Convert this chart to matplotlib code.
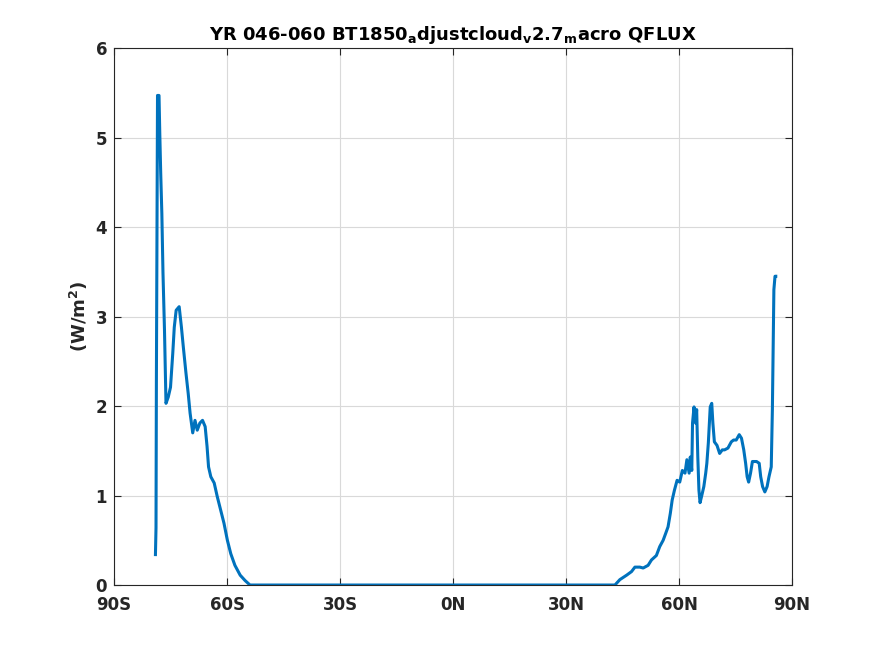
import numpy as np
import matplotlib
matplotlib.use("Agg")
import matplotlib.pyplot as plt

# latitude (deg) and QFLUX (W/m2)
lat_south = [-79.0, -78.85, -78.75, -78.6, -78.45, -78.3, -78.05, -77.85, -77.6,
             -77.3, -77.0, -76.6, -76.2, -75.6, -75.0, -74.4, -74.0, -73.5, -72.7,
             -72.1, -71.6, -70.9, -70.3, -69.8, -69.1, -68.5, -67.9, -67.2, -66.5,
             -65.8, -65.3, -64.9, -64.3, -63.4, -62.6, -61.7, -60.8, -59.9, -59.0,
             -57.9, -56.5, -55.2, -53.9]
q_south = [0.34, 0.64, 2.26, 3.85, 5.47, 5.47, 5.47, 5.05, 4.6,
           4.15, 3.49, 2.85, 2.03, 2.1, 2.21, 2.59, 2.88, 3.07, 3.11,
           2.88, 2.66, 2.37, 2.14, 1.92, 1.70, 1.84, 1.73, 1.81, 1.84,
           1.77, 1.55, 1.32, 1.21, 1.14, 0.99, 0.84, 0.69, 0.50, 0.35,
           0.22, 0.11, 0.05, 0.0]

lat_north = [43.0, 44.3, 46.1, 47.4, 48.3, 49.6, 50.5, 51.8, 52.7, 54.0, 54.9,
             55.8, 56.5, 57.1, 57.7, 58.2, 58.8, 59.5, 60.2, 60.9, 61.6, 62.1,
             62.7, 63.0, 63.4, 63.6, 64.0, 64.4, 64.7, 65.0, 65.3, 65.6, 66.0,
             66.6, 67.1, 67.4, 67.8, 68.3, 68.7, 69.0, 69.4, 70.1, 70.8, 71.5,
             72.1, 73.0, 73.9, 74.5, 75.2, 76.0, 76.6, 77.2, 77.7, 78.1, 78.5,
             79.0, 79.5, 80.6, 81.3, 81.7, 82.2, 82.8, 83.4, 83.9, 84.5, 84.8,
             85.0, 85.2, 85.5, 85.7]
q_north = [0.0, 0.06, 0.11, 0.15, 0.2, 0.2, 0.19, 0.22, 0.28, 0.33, 0.43,
           0.50, 0.58, 0.65, 0.80, 0.95, 1.06, 1.17, 1.15, 1.28, 1.25, 1.40,
           1.25, 1.43, 1.28, 1.81, 1.99, 1.81, 1.96, 1.43, 1.06, 0.92, 0.99,
           1.10, 1.25, 1.36, 1.59, 1.99, 2.03, 1.81, 1.60, 1.56, 1.47, 1.51,
           1.51, 1.53, 1.60, 1.62, 1.62, 1.68, 1.64, 1.51, 1.36, 1.21, 1.15,
           1.25, 1.38, 1.38, 1.36, 1.21, 1.10, 1.04, 1.10, 1.21, 1.32, 1.96,
           2.63, 3.30, 3.45, 3.45]

xticks = [-90, -60, -30, 0, 30, 60, 90]
xticklabels = ["90S", "60S", "30S", "0N", "30N", "60N", "90N"]

lat = np.concatenate([lat_south, lat_north])
q = np.concatenate([q_south, q_north])

fig = plt.figure(figsize=(8.75, 6.56), dpi=100)
ax = fig.add_axes([0.1303, 0.1082, 0.7748, 0.8186])

ax.plot(lat, q, color="#0072BD", linewidth=2.2)

ax.set_xlim(-90, 90)
ax.set_ylim(0, 6)
ax.set_xticks(xticks)
ax.set_xticklabels(xticklabels)
ax.set_yticks(range(0, 7))
ax.grid(True, color="#d9d9d9", linewidth=0.8)
ax.set_axisbelow(True)

axcol = "#262626"
for s in ax.spines.values():
    s.set_color(axcol)
    s.set_linewidth(0.8)
ax.tick_params(direction="in", top=True, right=True, length=5,
               colors=axcol, labelsize=12)
ax.tick_params(axis="x", pad=8)
ax.tick_params(axis="y", pad=5)
for lbl in ax.get_xticklabels() + ax.get_yticklabels():
    lbl.set_fontweight("bold")

ax.set_ylabel(r"(W/m$^\mathbf{2}$)", fontsize=13, fontweight="bold", color=axcol,
              labelpad=4)
ax.set_title(r"YR 046-060 BT1850$_\mathbf{a}$djustcloud$_\mathbf{v}$2.7$_\mathbf{m}$acro QFLUX",
             fontsize=13, fontweight="bold", color="black", pad=6)

fig.savefig("out.png", dpi=100)
